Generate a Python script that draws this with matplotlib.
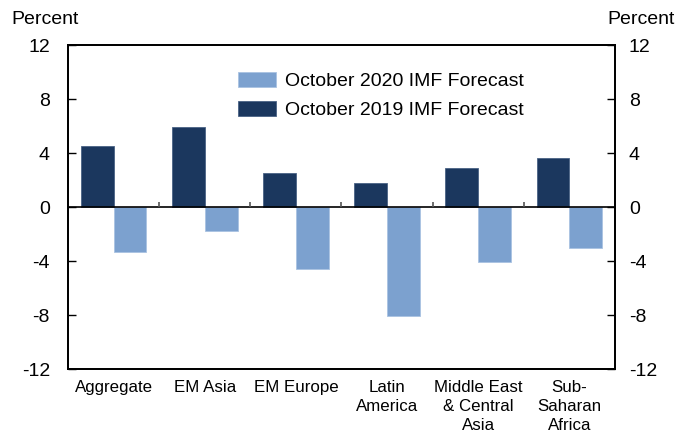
import matplotlib
matplotlib.use("Agg")
import matplotlib.pyplot as plt
import numpy as np

plt.rcParams['font.family'] = ['Liberation Sans', 'DejaVu Sans']

categories = ["Aggregate", "EM Asia", "EM Europe", "Latin\nAmerica",
              "Middle East\n& Central\nAsia", "Sub-\nSaharan\nAfrica"]
forecast_2019 = [4.5, 5.9, 2.5, 1.8, 2.9, 3.6]
forecast_2020 = [-3.3, -1.8, -4.6, -8.1, -4.1, -3.0]
yticks = [-12, -8, -4, 0, 4, 8, 12]

dark = '#1b375e'
light = '#7ca1cf'

fig = plt.figure(figsize=(6.79, 4.33), dpi=100)
ax = fig.add_axes([68/679, 1 - 369/433, 547/679, 324/433])

x = np.arange(len(categories))
width = 0.36
b20 = ax.bar(x + width/2, forecast_2020, width, color=light, edgecolor='#a9c2e2', linewidth=0.6,
             label="October 2020 IMF Forecast")
b19 = ax.bar(x - width/2, forecast_2019, width, color=dark, edgecolor='#4a6285', linewidth=0.6,
             label="October 2019 IMF Forecast")

ax.set_xlim(-0.5, len(categories) - 0.5)
ax.set_ylim(-12, 12)
ax.axhline(0, color='black', linewidth=1.2, zorder=3)

# small separators between categories on the zero line
ax.vlines(x[:-1] + 0.5, 0, 0.35, color='#555555', linewidth=1.2, zorder=3)

ax.set_xticks(x)
ax.set_xticklabels(categories, fontsize=12.2, linespacing=1.32, va='top')
ax.tick_params(axis='x', length=0, pad=8)

ax.set_yticks(yticks)
ax.set_yticklabels([str(t) for t in yticks], fontsize=14)
ax.tick_params(axis='y', direction='in', length=6, width=1, pad=13)

ax2 = ax.twinx()
ax2.set_ylim(-12, 12)
ax2.set_yticks(yticks)
ax2.set_yticklabels([str(t) for t in yticks], fontsize=14)
ax2.tick_params(axis='y', direction='in', length=6, width=1, pad=10)

for a in (ax, ax2):
    for s in a.spines.values():
        s.set_linewidth(1.3)

fig.text(11/679, 1 - 20/433, "Percent", fontsize=14, ha='left', va='center')
fig.text(675/679, 1 - 20/433, "Percent", fontsize=14, ha='right', va='center')

ax.legend(handles=[b20, b19], loc='upper left', frameon=False, fontsize=14,
          bbox_to_anchor=(238/679, 1 - 72/433), bbox_transform=fig.transFigure,
          borderpad=0, borderaxespad=0, handlelength=1.95, handleheight=0.8,
          handletextpad=0.45, labelspacing=0.55)

fig.savefig("out.png", dpi=100)
